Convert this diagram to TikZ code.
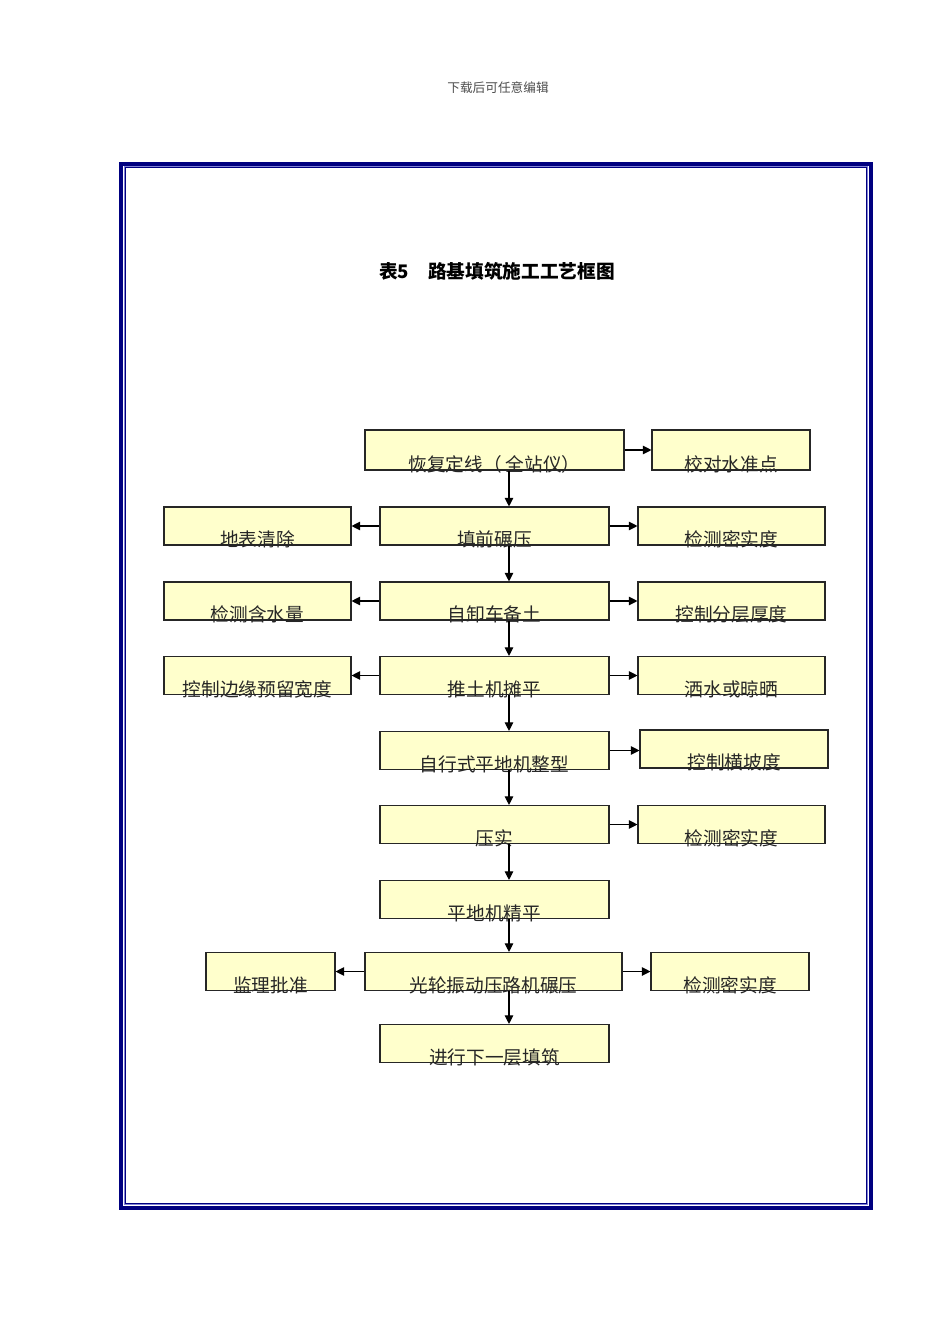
\documentclass[tikz,border=0pt]{standalone}
\usepackage{fontspec}
\usepackage{tikz}
\usetikzlibrary{arrows.meta}
\newfontfamily\cjk{Noto Sans CJK SC}
\definecolor{boxfill}{RGB}{255,255,204}
\definecolor{frameblue}{RGB}{0,0,128}
\definecolor{framelight}{RGB}{130,130,215}
\newdimen\px \px=0.75pt

\begin{document}
\begin{tikzpicture}[
	x=0.75pt, y=-0.75pt,
	line join=miter,
	box/.style={draw=black!85, fill=boxfill, line width=1.1\px, inner sep=0pt, minimum height=38\px},
	main/.style={box, minimum width=229\px},
	side/.style={box, minimum width=187\px},
	txt/.style={font=\cjk\fontsize{14}{14}\selectfont, text=black!85, anchor=center, yshift=6\px},
	lbl/.style={label={[txt]south:#1}},
	arr/.style={-{Triangle[length=6.5pt,width=6.5pt]}, line width=0.8pt}
	]
	\useasboundingbox (0,0) rectangle (950,1344);
	
	% Page header and frame
	\node[font=\cjk\fontsize{9.5}{9.5}\selectfont, text=black!70] (header) at (498,88) {下载后可任意编辑};
	\draw[frameblue, line width=4\px] (121,163.7) rectangle (870.5,1207.5);
	\draw[framelight, line width=1\px] (124,166.7) rectangle (867.5,1204.5);
	\draw[frameblue, line width=1\px] (125.3,168) rectangle (866.2,1203.2);
	
	% Title
	\node[font=\cjk\bfseries\fontsize{14}{14}\selectfont] (title) at (497,271) {表5\quad 路基填筑施工工艺框图};
	
	% Middle column
	\coordinate (spine) at (509,0);
	\node[main, minimum width=259\px, minimum height=40\px, lbl=恢复定线（\ 全站仪）] (restore) at (494.5,450) {};
	\node[main, lbl=填前碾压] (precompact) at (494.5,526) {};
	\node[main, lbl=自卸车备土] (dump) at (494.5,601) {};
	\node[main, lbl=推土机摊平] (doze) at (494.5,675.5) {};
	\node[main, lbl=自行式平地机整型] (grade) at (494.5,750.5) {};
	\node[main, lbl=压实] (compact) at (494.5,824.5) {};
	\node[main, lbl=平地机精平] (finish) at (494.5,899.5) {};
	\node[main, minimum width=257\px, lbl=光轮振动压路机碾压] (roll) at (493.5,971.5) {};
	\node[main, lbl=进行下一层填筑] (next) at (494.5,1043.5) {};
	
	% Left column
	\node[side, lbl=地表清除] (clear) at (257.5,526) {};
	\node[side, lbl=检测含水量] (moisture) at (257.5,601) {};
	\node[side, lbl=控制边缘预留宽度] (edge) at (257.5,675.5) {};
	\node[side, minimum width=129\px, lbl=监理批准] (approve) at (270.5,971.5) {};
	
	% Right column
	\node[side, minimum width=158\px, minimum height=40\px, lbl=校对水准点] (level) at (731,450) {};
	\node[side, lbl=检测密实度] (density1) at (731.5,526) {};
	\node[side, lbl=控制分层厚度] (layer) at (731.5,601) {};
	\node[side, lbl=洒水或晾晒] (water) at (731.5,675.5) {};
	\node[side, minimum width=188\px, lbl=控制横坡度] (slope) at (734,749) {};
	\node[side, lbl=检测密实度] (density2) at (731.5,824.5) {};
	\node[side, minimum width=158\px, lbl=检测密实度] (density3) at (730,971.5) {};
	
	% Main flow
	\foreach \a/\b in {restore/precompact, precompact/dump, dump/doze, doze/grade,
		grade/compact, compact/finish, finish/roll, roll/next}
	{
		\draw[arr] (\a.south -| spine) -- (\b.north -| spine);
	}
	
	% Side branches
	\foreach \a/\b in {restore/level, precompact/density1, dump/layer, doze/water,
		compact/density2, roll/density3, precompact/clear, dump/moisture, doze/edge, roll/approve}
	{
		\draw[arr] (\a) -- (\b);
	}
	\draw[arr] (grade.east) -- (grade.east -| slope.west);
\end{tikzpicture}
\end{document}
